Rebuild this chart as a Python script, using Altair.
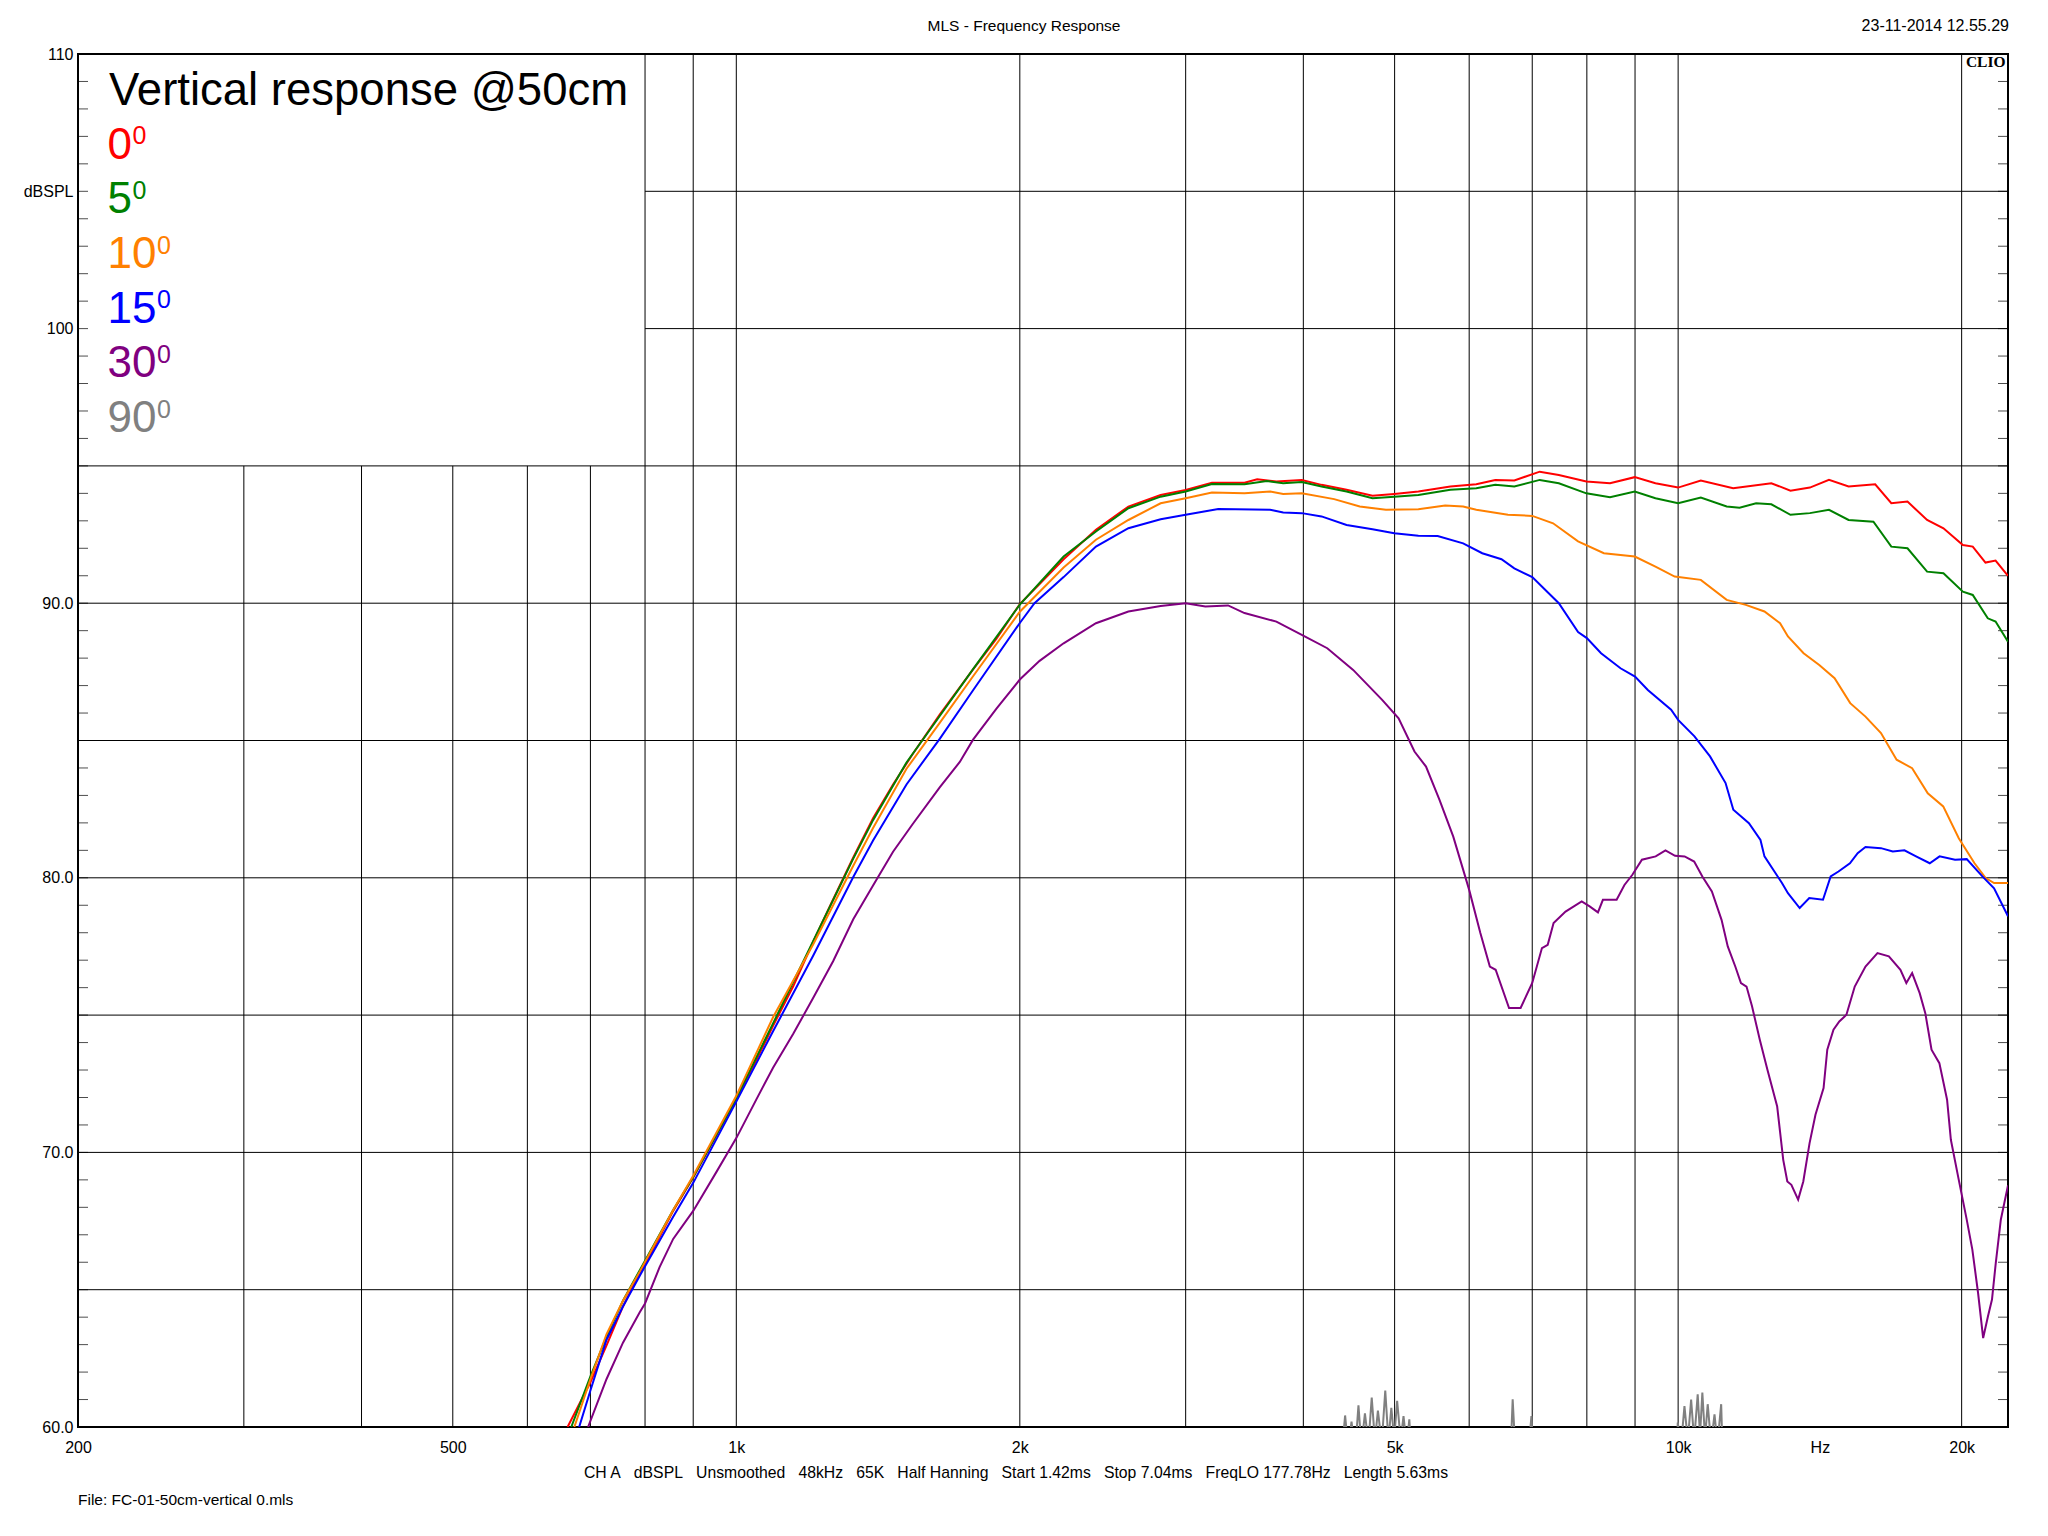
import altair as alt
import pandas as pd

# ---------------- data ----------------
angles = ["0", "5", "10", "15", "30", "90"]
colors = ["#ff0000", "#008000", "#ff8000", "#0000ff", "#800080", "#808080"]

f0 = [662, 700, 728, 758, 790, 809, 857, 900, 953, 1000,
      1051, 1094, 1149, 1207, 1267, 1331, 1397, 1467, 1540, 1645,
      1784, 1889, 2000, 2099, 2226, 2409, 2608, 2822, 3000, 3199,
      3464, 3573, 3745, 3985, 4182, 4446, 4737, 4996, 5299, 5730,
      6105, 6395, 6700, 7130, 7470, 7990, 8466, 8994, 9461, 10000,
      10570, 11440, 12560, 13160, 13800, 14460, 15170, 16190, 16840, 17520,
      18380, 19130, 20060, 20550, 21200, 21730, 22400]
db0 = [60.0, 61.63, 62.96, 64.39, 65.62, 66.23, 67.87, 69.09, 70.63, 71.95,
       73.39, 74.61, 76.04, 77.68, 79.21, 80.74, 82.17, 83.40, 84.52, 85.95,
       87.59, 88.71, 89.97, 90.7, 91.6, 92.67, 93.52, 93.94, 94.12, 94.39,
       94.39, 94.51, 94.43, 94.49, 94.31, 94.13, 93.91, 93.98, 94.07, 94.25,
       94.33, 94.49, 94.47, 94.79, 94.67, 94.43, 94.37, 94.59, 94.37, 94.21,
       94.47, 94.19, 94.37, 94.10, 94.21, 94.49, 94.25, 94.33, 93.64, 93.70,
       93.03, 92.73, 92.12, 92.06, 91.48, 91.55, 91.0]

f5 = [668, 700, 728, 758, 790, 857, 900, 1000, 1094, 1207,
      1331, 1397, 1516, 1645, 1784, 2000, 2226, 2409, 2608, 2822,
      3000, 3199, 3464, 3658, 3808, 3985, 4182, 4446, 4737, 4996,
      5299, 5730, 6105, 6395, 6700, 7130, 7470, 7990, 8466, 8994,
      9461, 10000, 10570, 11260, 11620, 12100, 12560, 13160, 13800, 14460,
      15170, 16120, 16840, 17520, 18380, 19130, 20060, 20550, 21320, 21730,
      22400]
db5 = [60.0, 61.84, 63.27, 64.60, 65.72, 67.9, 69.1, 71.97, 74.7, 77.7,
       80.7, 82.1, 84.2, 85.9, 87.6, 89.95, 91.7, 92.61, 93.46, 93.88,
       94.07, 94.34, 94.33, 94.45, 94.37, 94.41, 94.25, 94.07, 93.82, 93.88,
       93.94, 94.13, 94.19, 94.31, 94.25, 94.49, 94.37, 94.0, 93.86, 94.07,
       93.82, 93.64, 93.85, 93.52, 93.48, 93.64, 93.60, 93.22, 93.28, 93.40,
       93.03, 92.97, 92.06, 92.0, 91.15, 91.09, 90.42, 90.30, 89.45, 89.33,
       88.6]

f10 = [673, 700, 728, 758, 790, 857, 900, 1000, 1094, 1207,
       1331, 1397, 1516, 1645, 1784, 2000, 2226, 2409, 2608, 2822,
       3000, 3199, 3464, 3689, 3808, 3985, 4313, 4592, 4895, 5299,
       5658, 5912, 6105, 6597, 7001, 7366, 7830, 8340, 8994, 9461,
       9916, 10570, 11260, 11800, 12350, 12830, 13080, 13590, 14120, 14660,
       15230, 15810, 16420, 17060, 17720, 18410, 19120, 19860, 20640, 21210,
       21650, 22400]
db10 = [60.0, 61.74, 63.37, 64.60, 65.66, 67.9, 69.15, 72.06, 74.92, 77.58,
        80.44, 81.81, 83.97, 85.65, 87.34, 89.69, 91.3, 92.31, 93.03, 93.64,
        93.82, 94.03, 94.0, 94.07, 93.98, 94.0, 93.79, 93.52, 93.40, 93.42,
        93.56, 93.52, 93.40, 93.22, 93.18, 92.91, 92.25, 91.82, 91.70, 91.33,
        90.97, 90.85, 90.12, 89.94, 89.70, 89.27, 88.79, 88.18, 87.75, 87.27,
        86.36, 85.87, 85.27, 84.30, 83.99, 83.08, 82.60, 81.44, 80.53, 79.99,
        79.81, 79.81]

f15 = [681, 700, 728, 758, 790, 857, 900, 1000, 1094, 1207,
       1331, 1397, 1516, 1645, 1784, 2000, 2073, 2226, 2409, 2608,
       2822, 3000, 3249, 3689, 3808, 3985, 4182, 4446, 4737, 4996,
       5299, 5555, 5912, 6195, 6493, 6700, 7001, 7470, 7830, 8000,
       8283, 8686, 9000, 9286, 9830, 10000, 10408, 10811, 11230, 11445,
       11890, 12230, 12350, 12890, 13080, 13460, 13780, 14250, 14520, 14800,
       15220, 15510, 15810, 16420, 16900, 17390, 17890, 18500, 18950, 19680,
       20250, 21040, 21650, 22400]
db15 = [60.0, 61.33, 63.17, 64.39, 65.52, 67.66, 68.89, 71.85, 74.41, 77.17,
        80.03, 81.36, 83.40, 85.07, 86.83, 89.28, 90.0, 90.95, 92.06, 92.73,
        93.06, 93.22, 93.43, 93.40, 93.30, 93.28, 93.16, 92.85, 92.69, 92.55,
        92.46, 92.45, 92.18, 91.82, 91.60, 91.27, 90.95, 90.0, 88.95, 88.73,
        88.18, 87.63, 87.33, 86.84, 86.12, 85.75, 85.15, 84.42, 83.45, 82.48,
        81.99, 81.38, 80.78, 79.81, 79.44, 78.90, 79.26, 79.20, 80.05, 80.23,
        80.53, 80.90, 81.12, 81.08, 80.96, 81.0, 80.78, 80.53, 80.78, 80.66,
        80.68, 80.05, 79.62, 78.6]

f30 = [696, 728, 758, 790, 800, 829, 857, 900, 953, 1000,
       1051, 1094, 1149, 1207, 1267, 1331, 1397, 1467, 1540, 1645,
       1727, 1784, 1889, 2000, 2099, 2226, 2409, 2608, 2822, 3000,
       3148, 3328, 3464, 3745, 3985, 4241, 4518, 4850, 5049, 5249,
       5399, 5580, 5771, 6000, 6166, 6311, 6401, 6614, 6804, 7000,
       7168, 7270, 7375, 7594, 7900, 8055, 8220, 8320, 8604, 8770,
       8942, 9153, 9466, 9695, 9925, 10160, 10400, 10610, 10860, 11120,
       11290, 11500, 11660, 11820, 11980, 12210, 12440, 12740, 12930, 13060,
       13190, 13410, 13580, 13790, 13990, 14270, 14400, 14620, 14830, 15090,
       15400, 15810, 16280, 16740, 17220, 17470, 17720, 18050, 18300, 18580,
       18940, 19300, 19480, 19860, 20250, 20530, 20820, 21080, 21330, 21540,
       21740, 22010, 22400]
db30 = [60.0, 61.74, 63.07, 64.19, 64.50, 65.82, 66.85, 67.87, 69.30, 70.52,
        71.95, 73.08, 74.31, 75.63, 76.96, 78.49, 79.72, 80.95, 81.97, 83.30,
        84.22, 85.03, 86.16, 87.22, 87.90, 88.54, 89.27, 89.70, 89.90, 90.0,
        89.88, 89.92, 89.64, 89.33, 88.85, 88.36, 87.57, 86.48, 85.81, 84.60,
        84.05, 82.84, 81.50, 79.56, 77.99, 76.77, 76.65, 75.26, 75.26, 76.17,
        77.44, 77.56, 78.35, 78.77, 79.14, 78.96, 78.74, 79.20, 79.20, 79.74,
        80.11, 80.66, 80.78, 81.0, 80.80, 80.78, 80.59, 80.05, 79.50, 78.47,
        77.50, 76.77, 76.17, 76.04, 75.32, 74.10, 73.01, 71.67, 69.73, 68.94,
        68.82, 68.28, 68.94, 70.34, 71.37, 72.34, 73.74, 74.47, 74.77, 75.01,
        76.04, 76.77, 77.26, 77.14, 76.65, 76.17, 76.53, 75.80, 75.07, 73.74,
        73.25, 71.92, 70.46, 69.0, 67.55, 66.46, 64.88, 63.24, 64.03, 64.64,
        65.97, 67.55, 68.8]

f90 = [4300, 4380, 4430, 4465, 4500, 4540, 4577, 4610, 4650, 4690,
       4728, 4765, 4800, 4845, 4887, 4925, 4960, 4995, 5031, 5075,
       5110, 5150, 5183, 5220, 5300, 6550, 6630, 6673, 6720, 6800,
       6860, 6940, 6986, 7030, 7100, 9900, 9960, 9991, 10070, 10156,
       10240, 10323, 10400, 10490, 10550, 10610, 10680, 10750, 10840, 10930,
       11010, 11110, 11160, 11250]
db90 = [45, 58.5, 60.42, 59.2, 60.2, 59.1, 60.79, 59.3, 60.5, 59.4,
        61.07, 59.5, 60.6, 59.4, 61.33, 59.5, 60.7, 59.6, 60.95, 59.5,
        60.4, 59.3, 60.28, 58.5, 45, 45, 58.5, 61.01, 59.0, 58.0,
        59.6, 59.2, 60.40, 58.5, 45, 45, 58.5, 60.16, 59.3, 60.76,
        59.5, 61.0, 59.5, 61.19, 59.7, 61.25, 59.6, 60.83, 59.4, 60.46,
        59.4, 60.83, 58.5, 45]

curve_f = [f0, f5, f10, f15, f30, f90]
curve_db = [db0, db5, db10, db15, db30, db90]

x_domain = [200, 22400]
y_domain = [60, 110]
x_tick_values = [200, 500, 1000, 2000, 5000, 10000, 14142, 20000]
x_tick_labels = ["200", "500", "1k", "2k", "5k", "10k", "Hz", "20k"]
y_tick_values = [60, 70, 80, 90, 100, 105, 110]
y_tick_labels = ["60.0", "70.0", "80.0", "90.0", "100", "dBSPL", "110"]
grid_f = [300, 400, 500, 600, 700, 800, 900, 1000, 2000, 3000, 4000, 5000,
          6000, 7000, 8000, 9000, 10000, 20000]
grid_db = [65, 70, 75, 80, 85, 90, 95, 100, 105]
minor_db = list(range(61, 110))
legend_box_f = 800      # legend panel covers 200..800 Hz
legend_box_db = 95      # and 95..110 dB

title_text = "MLS - Frequency Response"
date_text = "23-11-2014 12.55.29"
brand_text = "CLIO"
legend_title = "Vertical response @50cm"
sp = "\u00a0\u00a0\u00a0"
footer_items = ["CH A", "dBSPL", "Unsmoothed", "48kHz", "65K", "Half Hanning",
                "Start 1.42ms", "Stop 7.04ms", "FreqLO 177.78Hz", "Length 5.63ms"]
file_text = "File: FC-01-50cm-vertical 0.mls"

# ---------------- chart ----------------
FONT = "Liberation Sans, Arial, sans-serif"
W, H = 1930, 1373

xscale = alt.Scale(type="log", domain=x_domain, nice=False)
yscale = alt.Scale(domain=y_domain, nice=False, zero=False)


def label_expr(vals, labs):
    expr = "''"
    for v, l in reversed(list(zip(vals, labs))):
        expr = f"abs(datum.value - {v}) < 0.5 ? '{l}' : ({expr})"
    return expr


xaxis = alt.Axis(values=x_tick_values, labelExpr=label_expr(x_tick_values, x_tick_labels),
                 ticks=False, domain=False, grid=False, title=None,
                 labelFont=FONT, labelFontSize=16, labelColor="black",
                 labelPadding=12, labelFlush=False, labelOverlap=False, labelBound=False)
yaxis = alt.Axis(values=y_tick_values, labelExpr=label_expr(y_tick_values, y_tick_labels),
                 ticks=False, domain=False, grid=False, title=None,
                 labelFont=FONT, labelFontSize=16, labelColor="black",
                 labelPadding=5, labelOverlap=False, labelBaseline="middle")

X = lambda f: alt.X(f, type="quantitative", scale=xscale, axis=xaxis)
Y = lambda f: alt.Y(f, type="quantitative", scale=yscale, axis=yaxis)

layers = []

vgrid = pd.DataFrame({"f": grid_f,
                      "lo": [y_domain[0]] * len(grid_f),
                      "hi": [y_domain[1] if f >= legend_box_f else legend_box_db for f in grid_f]})
layers.append(alt.Chart(vgrid).mark_rule(color="black", strokeWidth=1).encode(
    x=X("f"), y=Y("lo"), y2="hi"))

hgrid = pd.DataFrame({"db": grid_db,
                      "flo": [legend_box_f if d > legend_box_db else x_domain[0] for d in grid_db],
                      "fhi": [x_domain[1]] * len(grid_db)})
layers.append(alt.Chart(hgrid).mark_rule(color="black", strokeWidth=1).encode(
    y=Y("db"), x=X("flo"), x2="fhi"))

ticks_l = pd.DataFrame({"db": minor_db, "f": [x_domain[0]] * len(minor_db)})
ticks_r = pd.DataFrame({"db": minor_db, "f": [x_domain[1]] * len(minor_db)})
layers.append(alt.Chart(ticks_l).mark_tick(orient="horizontal", size=10, thickness=1,
                                           color="black", xOffset=5).encode(x=X("f"), y=Y("db")))
layers.append(alt.Chart(ticks_r).mark_tick(orient="horizontal", size=10, thickness=1,
                                           color="black", xOffset=-5).encode(x=X("f"), y=Y("db")))

for ang, col, fs, ds in zip(angles, colors, curve_f, curve_db):
    df = pd.DataFrame({"f": fs, "db": ds, "i": list(range(len(fs)))})
    layers.append(alt.Chart(df).mark_line(color=col, strokeWidth=2, clip=True).encode(
        x=X("f"), y=Y("db"), order="i:Q"))


def txt(s, x, y, size=15.5, align="left", baseline="alphabetic", color="black",
        font=FONT, weight="normal"):
    return alt.Chart(pd.DataFrame({"t": [s]})).mark_text(
        align=align, baseline=baseline, fontSize=size, color=color, font=font,
        fontWeight=weight).encode(x=alt.value(x), y=alt.value(y), text="t:N")


layers.append(txt(title_text, 946, -28, baseline="middle", align="center"))
layers.append(txt(date_text, W + 1, -28, size=16, baseline="middle", align="right"))
layers.append(txt(brand_text, W - 2.5, 12.7, size=15.5, align="right",
                  font="Liberation Serif, Times New Roman, serif", weight="bold"))
layers.append(txt(sp.join(footer_items), 938, 1419, size=15.75, baseline="middle", align="center"))
layers.append(txt(file_text, 0, 1446, baseline="middle"))

layers.append(txt(legend_title, 31, 51, size=45.5))
for i, (ang, col) in enumerate(zip(angles, colors)):
    yb = 104.5 + i * 54.7
    layers.append(txt(ang, 29.6, yb, size=44, color=col))
    layers.append(txt("0", 29.6 + len(ang) * 0.556 * 44 + 0.5, yb - 14.3, size=25, color=col))

chart = alt.layer(*layers).properties(
    width=W, height=H,
    padding={"left": 70, "top": 46, "right": 32, "bottom": 100},
    autosize=alt.AutoSizeParams(type="none"),
    background="white",
).configure_view(stroke="black", strokeWidth=2)

chart.save("out.html", embed_options={"renderer": "svg", "actions": False})
